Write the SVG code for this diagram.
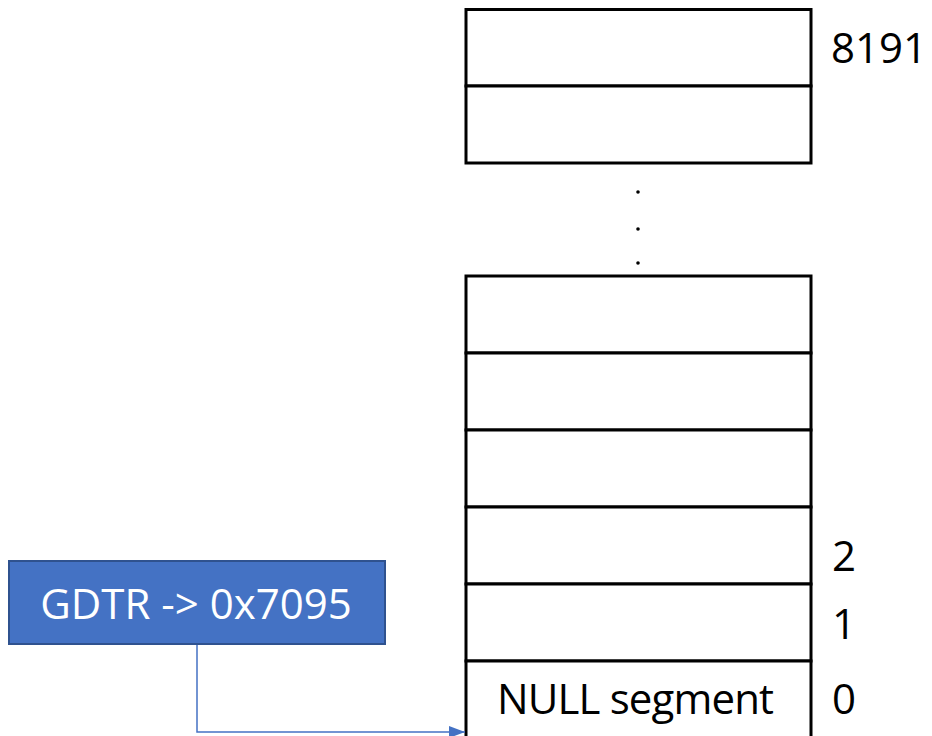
<svg xmlns="http://www.w3.org/2000/svg" width="932" height="736" viewBox="0 0 932 736">
  <style>
    .cell { fill: #ffffff; stroke: #000000; stroke-width: 3; }
    .lbl { font-family: "Open Sans", "Liberation Sans", sans-serif; font-size: 42px; fill: #000000; }
    .dot { fill: #000000; }
    .reg { fill: #4472C4; stroke: #2F528F; stroke-width: 2; }
    .regtxt { font-family: "Open Sans", "Liberation Sans", sans-serif; font-size: 42px; fill: #ffffff; text-anchor: middle; }
    .conn { fill: none; stroke: #4472C4; stroke-width: 1.5; }
  </style>
  <defs>
    <marker id="arrow" viewBox="0 0 16 12" refX="16" refY="6" markerWidth="16" markerHeight="12" markerUnits="userSpaceOnUse" orient="auto">
      <path d="M0,0 L16,6 L0,12 z" fill="#4472C4"/>
    </marker>
  </defs>
  <rect width="932" height="736" fill="#ffffff"/>

  <!-- upper end of the descriptor table -->
  <g id="table-top">
    <rect class="cell" x="466" y="9.5" width="345" height="76.5"/>
    <rect class="cell" x="466" y="86" width="345" height="77"/>
    <text class="lbl" x="831" y="63">8191</text>
  </g>

  <!-- ellipsis between the two ends -->
  <g id="ellipsis">
    <circle class="dot" cx="638" cy="192" r="1.8"/>
    <circle class="dot" cx="638" cy="229" r="1.8"/>
    <circle class="dot" cx="638" cy="263" r="1.8"/>
  </g>

  <!-- lower end of the descriptor table -->
  <g id="table-bottom">
    <rect class="cell" x="466" y="276" width="345" height="77"/>
    <rect class="cell" x="466" y="353" width="345" height="77"/>
    <rect class="cell" x="466" y="430" width="345" height="77"/>
    <rect class="cell" x="466" y="507" width="345" height="77"/>
    <rect class="cell" x="466" y="584" width="345" height="77"/>
    <rect class="cell" x="466" y="661" width="345" height="80"/>
    <text class="lbl" x="497" y="714" textLength="277">NULL segment</text>
    <text class="lbl" x="832" y="571">2</text>
    <text class="lbl" x="832" y="639">1</text>
    <text class="lbl" x="832" y="714">0</text>
  </g>

  <!-- GDTR register -->
  <g id="gdtr">
    <rect class="reg" x="9" y="561" width="376" height="83"/>
    <text class="regtxt" x="196" y="619">GDTR -&gt; 0x7095</text>
  </g>

  <g id="connectors">
    <path class="conn" d="M197,645 V732 H465" marker-end="url(#arrow)"/>
  </g>
</svg>
